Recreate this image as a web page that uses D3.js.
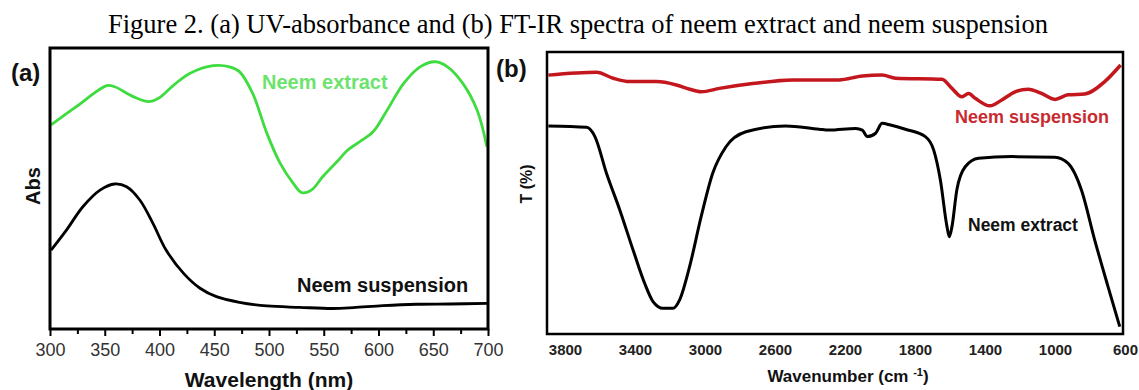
<!DOCTYPE html>
<html>
<head>
<meta charset="utf-8">
<script src="https://d3js.org/d3.v7.min.js"></script>
<style>
  body { margin: 0; background: #fff; }
  svg { display: block; font-family: Arial, "Liberation Sans", sans-serif; }
  .frame { fill: none; stroke: #000; }
  .axis path { display: none; }
  .axis line { stroke: #000; stroke-width: 2; }
</style>
</head>
<body>
<div id="figure"></div>
<script>

// (a) UV-absorbance, wavelength in nm, absorbance in arbitrary units
var uvWavelength = [301, 324, 352, 359, 376, 390, 399, 413, 428, 449, 464, 473, 485, 498, 510, 522, 530, 539, 549, 562, 572, 583, 595, 607, 623, 638, 652, 663, 677, 690, 699];
var uvExtract = [0.726, 0.791, 0.866, 0.862, 0.827, 0.809, 0.821, 0.868, 0.910, 0.937, 0.933, 0.916, 0.839, 0.697, 0.591, 0.519, 0.485, 0.495, 0.542, 0.595, 0.637, 0.667, 0.702, 0.773, 0.874, 0.933, 0.951, 0.933, 0.874, 0.779, 0.649];

var uvSuspWavelength = [301, 315, 330, 346, 359, 370, 382, 394, 406, 422, 437, 452, 473, 498, 528, 558, 577, 604, 635, 665, 699];
var uvSuspension = [0.281, 0.352, 0.435, 0.495, 0.516, 0.506, 0.459, 0.376, 0.281, 0.198, 0.145, 0.115, 0.095, 0.082, 0.077, 0.073, 0.076, 0.083, 0.088, 0.089, 0.091];

var uvTicks = [300, 350, 400, 450, 500, 550, 600, 650, 700];
var uvMinorTicks = [325, 375, 425, 475, 525, 575, 625, 675];

// (b) FT-IR, wavenumber in cm-1, transmittance in arbitrary units
var irExtractWave = [3895, 3677, 3629, 3563, 3487, 3411, 3345, 3297, 3240, 3183, 3145, 3088, 3022, 2956, 2880, 2766, 2538, 2348, 2291, 2139, 2101, 2073, 2025, 1988, 1940, 1855, 1741, 1693, 1655, 1617, 1604, 1589, 1561, 1513, 1437, 1248, 1001, 925, 849, 773, 697, 630];
var irExtract = [0.738, 0.733, 0.700, 0.570, 0.440, 0.298, 0.180, 0.115, 0.091, 0.091, 0.121, 0.239, 0.416, 0.570, 0.664, 0.717, 0.738, 0.726, 0.723, 0.729, 0.723, 0.700, 0.712, 0.747, 0.741, 0.726, 0.700, 0.652, 0.546, 0.380, 0.345, 0.380, 0.511, 0.593, 0.623, 0.629, 0.627, 0.605, 0.511, 0.333, 0.168, 0.026];

var irSuspWave = [3895, 3620, 3525, 3430, 3278, 3164, 3088, 3022, 2917, 2728, 2500, 2234, 2101, 1988, 1911, 1646, 1589, 1532, 1494, 1456, 1371, 1304, 1228, 1153, 1077, 1001, 925, 830, 716, 625];
var irSuspension = [0.918, 0.928, 0.907, 0.895, 0.895, 0.883, 0.868, 0.859, 0.871, 0.888, 0.901, 0.901, 0.915, 0.918, 0.907, 0.903, 0.871, 0.841, 0.853, 0.836, 0.809, 0.830, 0.859, 0.868, 0.853, 0.832, 0.848, 0.851, 0.895, 0.954];

var irTicks = [3800, 3400, 3000, 2600, 2200, 1800, 1400, 1000, 600];

window.onload = function(){
  var svg = d3.select("#figure").append("svg")
      .attr("width", 1139)
      .attr("height", 390);

  svg.append("text")
      .attr("x", 578)
      .attr("y", 33)
      .attr("text-anchor", "middle")
      .style("font-family", "'Liberation Serif', 'Times New Roman', serif")
      .style("font-size", "26.5px")
      .text("Figure 2. (a) UV-absorbance and (b) FT-IR spectra of neem extract and neem suspension");

  makeUvPanel(svg)
  makeIrPanel(svg)
};

function makeUvPanel(svg){
  var box = {left: 50, top: 48, right: 488, bottom: 329};

  var x = d3.scaleLinear()
      .domain([300, 700])
      .range([box.left, box.right]);

  var y = d3.scaleLinear()
      .domain([0, 1])
      .range([box.bottom, box.top]);

  var line = d3.line()
      .x(function(d){ return x(d[0]); })
      .y(function(d){ return y(d[1]); })
      .curve(d3.curveCatmullRom);

  svg.append("path")
      .datum(d3.zip(uvWavelength, uvExtract))
      .attr("d", line)
      .attr("fill", "none")
      .attr("stroke", "#3edc3e")
      .attr("stroke-width", 2.8);

  svg.append("path")
      .datum(d3.zip(uvSuspWavelength, uvSuspension))
      .attr("d", line)
      .attr("fill", "none")
      .attr("stroke", "#000")
      .attr("stroke-width", 2.8);

  svg.append("rect")
      .attr("class", "frame")
      .attr("x", box.left)
      .attr("y", box.top)
      .attr("width", box.right - box.left)
      .attr("height", box.bottom - box.top)
      .attr("stroke-width", 3);

  var minorAxis = d3.axisBottom(x)
      .tickValues(uvMinorTicks)
      .tickSize(5)
      .tickFormat("");

  svg.append("g")
      .attr("class", "axis")
      .attr("transform", "translate(0," + box.bottom + ")")
      .call(minorAxis);

  var xAxis = d3.axisBottom(x)
      .tickValues(uvTicks)
      .tickSize(7)
      .tickPadding(7);

  svg.append("g")
      .attr("class", "axis")
      .attr("transform", "translate(0," + box.bottom + ")")
      .call(xAxis)
    .selectAll("text")
      .attr("fill", "#333")
      .style("font-size", "18px")
      .style("font-family", "Arial, 'Liberation Sans', sans-serif");

  svg.append("text")
      .attr("x", (box.left + box.right) / 2)
      .attr("y", 387)
      .attr("text-anchor", "middle")
      .style("font-size", "21px")
      .style("font-weight", "bold")
      .attr("fill", "#111")
      .text("Wavelength (nm)");

  svg.append("text")
      .attr("transform", "translate(40,186) rotate(-90)")
      .attr("text-anchor", "middle")
      .style("font-size", "20px")
      .style("font-weight", "bold")
      .attr("fill", "#111")
      .text("Abs");

  svg.append("text")
      .attr("x", 11)
      .attr("y", 81)
      .style("font-size", "24px")
      .style("font-weight", "bold")
      .attr("fill", "#111")
      .text("(a)");

  svg.append("text")
      .attr("x", 262)
      .attr("y", 89)
      .style("font-size", "20px")
      .style("font-weight", "bold")
      .attr("fill", "#6ce36c")
      .text("Neem extract");

  svg.append("text")
      .attr("x", 297)
      .attr("y", 292)
      .style("font-size", "20px")
      .style("font-weight", "bold")
      .attr("fill", "#111")
      .text("Neem suspension");
};

function makeIrPanel(svg){
  var box = {left: 547, top: 52, right: 1123, bottom: 334};

  var x = d3.scaleLinear()
      .domain([3800, 600])
      .range([565, 1125]);

  var y = d3.scaleLinear()
      .domain([0, 1])
      .range([box.bottom, box.top]);

  var line = d3.line()
      .x(function(d){ return x(d[0]); })
      .y(function(d){ return y(d[1]); })
      .curve(d3.curveMonotoneX);

  svg.append("path")
      .datum(d3.zip(irSuspWave, irSuspension))
      .attr("d", line)
      .attr("fill", "none")
      .attr("stroke", "#c3161d")
      .attr("stroke-width", 3.5)
      .attr("stroke-linejoin", "round");

  svg.append("path")
      .datum(d3.zip(irExtractWave, irExtract))
      .attr("d", line)
      .attr("fill", "none")
      .attr("stroke", "#000")
      .attr("stroke-width", 3)
      .attr("stroke-linejoin", "round");

  svg.append("rect")
      .attr("class", "frame")
      .attr("x", box.left)
      .attr("y", box.top)
      .attr("width", box.right - box.left)
      .attr("height", box.bottom - box.top)
      .attr("stroke-width", 2.5);

  var xAxis = d3.axisBottom(x)
      .tickValues(irTicks)
      .tickSize(0)
      .tickPadding(10)
      .tickFormat(d3.format("d"));

  svg.append("g")
      .attr("class", "axis")
      .attr("transform", "translate(0," + box.bottom + ")")
      .call(xAxis)
    .selectAll("text")
      .attr("fill", "#222")
      .style("font-size", "15px")
      .style("font-weight", "bold")
      .style("font-family", "Arial, 'Liberation Sans', sans-serif");

  var label = svg.append("text")
      .attr("x", 848)
      .attr("y", 382)
      .attr("text-anchor", "middle")
      .style("font-size", "17px")
      .style("font-weight", "bold")
      .attr("fill", "#111");

  label.append("tspan").text("Wavenumber (cm ");
  label.append("tspan")
      .attr("dy", -6)
      .style("font-size", "11px")
      .text("-1");
  label.append("tspan")
      .attr("dy", 6)
      .text(")");

  svg.append("text")
      .attr("transform", "translate(532,184) rotate(-90)")
      .attr("text-anchor", "middle")
      .style("font-size", "16px")
      .style("font-weight", "bold")
      .attr("fill", "#111")
      .text("T (%)");

  svg.append("text")
      .attr("x", 496)
      .attr("y", 77)
      .style("font-size", "24px")
      .style("font-weight", "bold")
      .attr("fill", "#111")
      .text("(b)");

  svg.append("text")
      .attr("x", 955)
      .attr("y", 123)
      .style("font-size", "18px")
      .style("font-weight", "bold")
      .attr("fill", "#c92a30")
      .text("Neem suspension");

  svg.append("text")
      .attr("x", 968)
      .attr("y", 231)
      .style("font-size", "17.5px")
      .style("font-weight", "bold")
      .attr("fill", "#111")
      .text("Neem extract");
};
</script>
</body>
</html>
